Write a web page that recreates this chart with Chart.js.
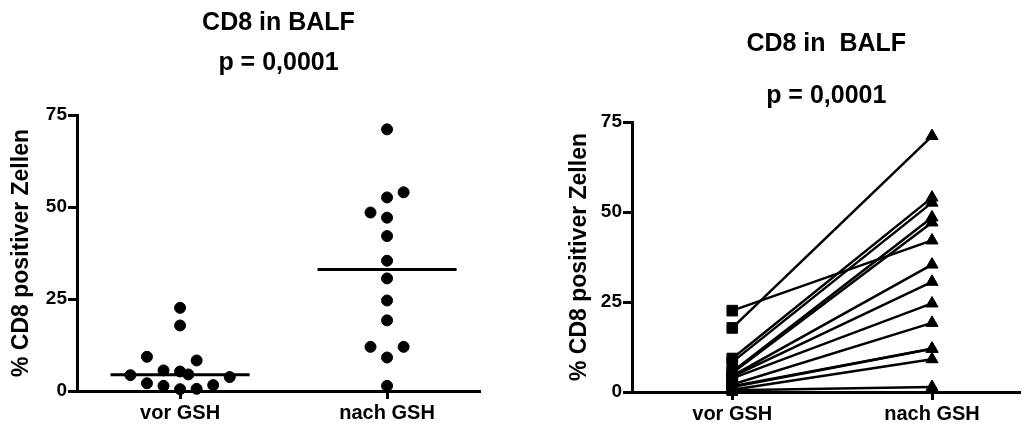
<!DOCTYPE html>
<html>
<head>
<meta charset="utf-8">
<script src="https://cdn.jsdelivr.net/npm/chart.js@4.4.0/dist/chart.umd.min.js"></script>
<style>
  html, body { margin: 0; padding: 0; background: #fff; }
  #wrap { position: relative; width: 1029px; height: 426px; }
  .box { position: absolute; top: 0; height: 426px; }
  #boxLinks { left: 0; width: 515px; }
  #boxRechts { left: 515px; width: 514px; }
</style>
</head>
<body>
<div id="wrap">
  <div class="box" id="boxLinks"><canvas id="chartLinks" width="515" height="426"></canvas></div>
  <div class="box" id="boxRechts"><canvas id="chartRechts" width="514" height="426"></canvas></div>
</div>
<script>
// Daten: % CD8 positiver Zellen in der BALF, gepaart (Index i = gleicher Patient)
const gruppen = ["vor GSH", "nach GSH"];
const vorGSH  = [22.6, 17.8, 9.3, 8.3, 5.6, 5.3, 4.5, 4.3, 3.8, 2.1, 1.6, 1.4, 0.6, 0.5];
const nachGSH = [42.1, 71.1, 54.0, 52.6, 48.5, 47.1, 35.4, 30.6, 24.6, 19.2, 12.0, 12.0, 9.1, 1.4];
// seitliches Verschieben der Punkte im Streudiagramm (in Schritten)
const jitterVor  = [0, 0, -2, 1, -1, 0, 0.5, -3, 3, -2, 2, -1, 1, 0];
const jitterNach = [0, 0, 1, 0, -1, 0, 0, 0, 0, 0, -1, 1, 0, 0];
const yTicks = [0, 25, 50, 75];
const titel = "CD8 in BALF";
const titelRechts = "CD8 in  BALF";
const pWert = "p = 0,0001";
const yTitel = "% CD8 positiver Zellen";

Chart.defaults.font.family = "'Liberation Sans', Arial, sans-serif";
Chart.defaults.color = "#000";

const jitterSchritt = 0.08;
const medianBreite = 0.336;

function median(werte) {
    const s = [...werte].sort((a, b) => a - b);
    const m = Math.floor(s.length / 2);
    return s.length % 2 ? s[m] : (s[m - 1] + s[m]) / 2;
}

function achsen(yBreite, xHoehe, xMin, xMax, titelAbstand) {
    return {
        x: {
            type: "linear",
            min: xMin,
            max: xMax,
            afterBuildTicks: s => { s.ticks = gruppen.map((g, i) => ({ value: i })); },
            afterFit: s => { s.height = xHoehe; },
            ticks: {
                callback: v => gruppen[v],
                color: "#000",
                font: { size: 20, weight: "bold" },
                padding: 2,
                autoSkip: false,
                maxRotation: 0
            },
            grid: { drawOnChartArea: false, tickLength: 8, tickWidth: 3, color: "#000" },
            border: { color: "#000", width: 3 }
        },
        y: {
            min: 0,
            max: 75,
            afterBuildTicks: s => { s.ticks = yTicks.map(v => ({ value: v })); },
            afterFit: s => { s.width = yBreite; },
            ticks: { color: "#000", font: { size: 19, weight: "bold" }, padding: 1 },
            grid: { drawOnChartArea: false, tickLength: 9, tickWidth: 3, color: "#000" },
            border: { color: "#000", width: 3 },
            title: {
                display: true,
                text: yTitel,
                color: "#000",
                font: { size: 23, weight: "bold" },
                padding: { top: titelAbstand, bottom: 0 }
            }
        }
    };
}

function titelPlugins(text, t1, t2) {
    return {
        legend: { display: false },
        tooltip: { enabled: false },
        title: {
            display: true, text: text, fullSize: false, color: "#000",
            font: { size: 25, weight: "bold" }, padding: t1
        },
        subtitle: {
            display: true, text: pWert, fullSize: false, color: "#000",
            font: { size: 25, weight: "bold" }, padding: t2
        }
    };
}

// Linkes Diagramm: Streudiagramm mit Median
const medVor = median(vorGSH);
const medNach = median(nachGSH);

new Chart(document.getElementById("chartLinks"), {
    type: "scatter",
    data: {
        datasets: [
            {
                data: vorGSH.map((v, i) => ({ x: jitterVor[i] * jitterSchritt, y: v })),
                backgroundColor: "#000", borderColor: "#000",
                pointRadius: 5.5, pointHoverRadius: 5.5, clip: false
            },
            {
                data: nachGSH.map((v, i) => ({ x: 1 + jitterNach[i] * jitterSchritt, y: v })),
                backgroundColor: "#000", borderColor: "#000",
                pointRadius: 5.5, pointHoverRadius: 5.5, clip: false
            },
            {
                data: [{ x: -medianBreite, y: medVor }, { x: medianBreite, y: medVor }],
                showLine: true, borderColor: "#000", borderWidth: 3, pointRadius: 0, clip: false
            },
            {
                data: [{ x: 1 - medianBreite, y: medNach }, { x: 1 + medianBreite, y: medNach }],
                showLine: true, borderColor: "#000", borderWidth: 3, pointRadius: 0, clip: false
            }
        ]
    },
    options: {
        responsive: false,
        animation: false,
        layout: { padding: { left: 0, right: 35, top: 0, bottom: 0 } },
        scales: achsen(77, 35, -0.498, 1.449, 8),
        plugins: titelPlugins(titel, { top: 8, bottom: 5 }, { top: 5, bottom: 37 })
    }
});

// Rechtes Diagramm: gepaarte Werte vorher / nachher
const marker = [
    {
        data: vorGSH.map(v => ({ x: 0, y: v })),
        pointStyle: "rect", pointRadius: 7.5, pointHoverRadius: 7.5,
        backgroundColor: "#000", borderColor: "#000", clip: false
    },
    {
        data: nachGSH.map(v => ({ x: 1, y: v })),
        pointStyle: "triangle", pointRadius: 7, pointHoverRadius: 7,
        backgroundColor: "#000", borderColor: "#000", clip: false
    }
];
const verbindungen = vorGSH.map((v, i) => ({
    data: [{ x: 0, y: v }, { x: 1, y: nachGSH[i] }],
    showLine: true, borderColor: "#000", borderWidth: 2.5, pointRadius: 0, clip: false
}));

new Chart(document.getElementById("chartRechts"), {
    type: "scatter",
    data: { datasets: marker.concat(verbindungen) },
    options: {
        responsive: false,
        animation: false,
        layout: { padding: { left: 0, right: 2, top: 0, bottom: 0 } },
        scales: achsen(117, 34, -0.502, 1.443, 51),
        plugins: titelPlugins(titelRechts, { top: 29, bottom: 7 }, { top: 15, bottom: 11 })
    }
});
</script>
</body>
</html>
